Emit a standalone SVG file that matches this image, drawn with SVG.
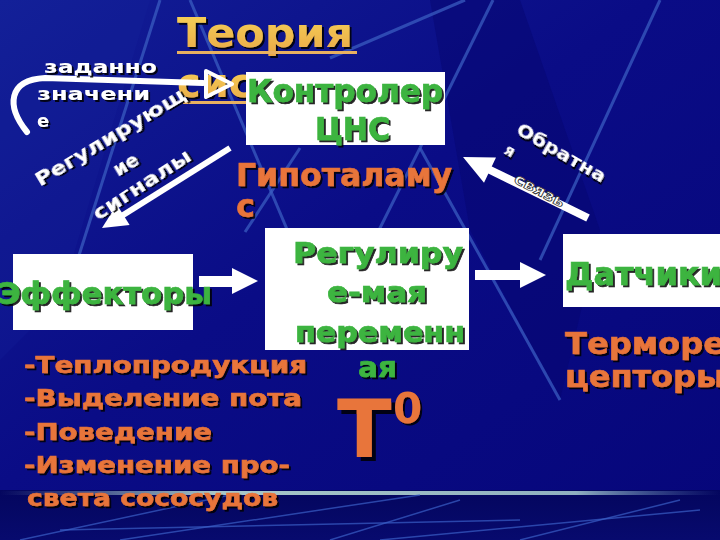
<svg xmlns="http://www.w3.org/2000/svg" width="720" height="540" viewBox="0 0 720 540">
<defs>
<linearGradient id="bg" x1="0" y1="0" x2="1" y2="1">
<stop offset="0" stop-color="#121e96"/>
<stop offset="0.45" stop-color="#0a0c86"/>
<stop offset="1" stop-color="#06067a"/>
</linearGradient>
<linearGradient id="band" x1="0" y1="0" x2="0" y2="1">
<stop offset="0" stop-color="#04065e"/>
<stop offset="1" stop-color="#070a6e"/>
</linearGradient>
<linearGradient id="hl" x1="0" y1="0" x2="1" y2="0">
<stop offset="0" stop-color="#8fb6c8" stop-opacity="0"/>
<stop offset="0.3" stop-color="#a8c8c8"/>
<stop offset="0.8" stop-color="#90b0c0"/>
<stop offset="1" stop-color="#5070b0" stop-opacity="0"/>
</linearGradient>
<linearGradient id="gold" x1="0" y1="0" x2="0" y2="1">
<stop offset="0" stop-color="#f8d458"/>
<stop offset="1" stop-color="#e8a848"/>
</linearGradient>
<filter id="sh" x="-10%" y="-20%" width="130%" height="150%">
<feDropShadow dx="2" dy="2" stdDeviation="0.4" flood-color="#000" flood-opacity="0.85"/>
</filter>
<filter id="shb" x="-10%" y="-10%" width="130%" height="130%">
<feDropShadow dx="4" dy="4" stdDeviation="0.6" flood-color="#000" flood-opacity="0.85"/>
</filter>
<style>
text{font-family:"DejaVu Sans","Liberation Sans",sans-serif;font-weight:bold}
.w{fill:#ffffff;filter:url(#sh)}
.g{fill:#3cb43f;stroke:#3cb43f;stroke-width:0.7;filter:url(#sh)}
.o{fill:#e8743a;stroke:#e8743a;stroke-width:0.6;filter:url(#sh)}
.bgl{stroke:#3a5cc0;stroke-width:3;fill:none;opacity:0.75}
.bgt{stroke:#3a60c8;stroke-width:1.5;fill:none;opacity:0.7}
.box{fill:#ffffff}
.con{stroke:#ffffff;fill:none}
.head{fill:#ffffff}
</style>
</defs>
<g id="background">
<rect x="0" y="0" width="720" height="540" fill="url(#bg)"/>
<polygon points="430,0 520,0 600,230 560,400 470,230" fill="#050570" opacity="0.5"/>
<polygon points="0,0 150,0 60,300 0,360" fill="#1a2aa0" opacity="0.2"/>
<line class="bgl" x1="160" y1="0" x2="68" y2="290"/>
<line class="bgl" x1="190" y1="0" x2="300" y2="260"/>
<line class="bgl" x1="330" y1="58" x2="465" y2="0"/>
<line class="bgl" x1="493" y1="0" x2="420" y2="148"/>
<line class="bgl" x1="420" y1="148" x2="560" y2="400"/>
<line class="bgl" x1="420" y1="148" x2="365" y2="258"/>
<line class="bgl" x1="660" y1="0" x2="540" y2="260"/>
<line class="bgl" x1="300" y1="148" x2="245" y2="232"/>
<rect x="0" y="490" width="720" height="50" fill="url(#band)"/>
<rect x="0" y="491" width="720" height="4" fill="url(#hl)"/>
<line class="bgt" x1="20" y1="540" x2="230" y2="495"/>
<line class="bgt" x1="120" y1="540" x2="420" y2="495"/>
<line class="bgt" x1="60" y1="530" x2="520" y2="520"/>
<line class="bgt" x1="330" y1="540" x2="460" y2="500"/>
<line class="bgt" x1="380" y1="540" x2="700" y2="510"/>
<line class="bgt" x1="520" y1="540" x2="680" y2="500"/>
</g>
<g id="title">
<text x="177" y="47" font-size="40" textLength="176" lengthAdjust="spacingAndGlyphs" fill="url(#gold)" filter="url(#sh)">Теория</text>
<rect x="177" y="51" width="180" height="3" fill="#e8b060"/>
<text x="177" y="97" font-size="40" fill="url(#gold)" filter="url(#sh)">сис</text>
<rect x="183" y="101" width="66" height="3" fill="#e8b060"/>
</g>
<g id="connectors">
<path class="con" d="M27,132 C6,106 8,80 45,78 L203,83" stroke-width="6" stroke-linecap="round"/>
<polygon points="206,71 232,84 206,97" fill="none" stroke="#ffffff" stroke-width="4" stroke-linejoin="round"/>
<line class="con" x1="230" y1="148" x2="120" y2="217" stroke-width="6"/>
<polygon class="head" points="102,228 129.6,224.9 116.8,204.6"/>
<line class="con" x1="588" y1="218" x2="488" y2="169" stroke-width="8"/>
<polygon class="head" points="463,157 496,157.6 484,182.8"/>
<rect class="head" x="199" y="276" width="34" height="11"/>
<polygon class="head" points="232,268 258,281 232,294"/>
<rect class="head" x="475" y="270" width="46" height="10"/>
<polygon class="head" points="520,262 546,275 520,288"/>
</g>
<g id="controller">
<rect class="box" x="246" y="72" width="199" height="73"/>
<text class="g" x="247" y="102" font-size="32" textLength="196" lengthAdjust="spacingAndGlyphs">Контролер</text>
<text class="g" x="315" y="140" font-size="32" textLength="75" lengthAdjust="spacingAndGlyphs">ЦНС</text>
</g>
<g id="hypothalamus">
<text class="o" x="236" y="186" font-size="32" textLength="216" lengthAdjust="spacingAndGlyphs">Гипоталаму</text>
<text class="o" x="236" y="217" font-size="32">с</text>
</g>
<g id="setpoint">
<text class="w" x="44" y="73" font-size="18" textLength="113" lengthAdjust="spacingAndGlyphs">заданно</text>
<text class="w" x="37" y="100" font-size="18" textLength="113" lengthAdjust="spacingAndGlyphs">значени</text>
<text class="w" x="37" y="127" font-size="18">е</text>
</g>
<g id="reg-signals-label">
<text class="w" transform="translate(40,187) rotate(-31)" font-size="19" textLength="172" lengthAdjust="spacingAndGlyphs">Регулирующ</text>
<text class="w" transform="translate(118,177) rotate(-31)" font-size="19">ие</text>
<text class="w" transform="translate(98,221) rotate(-33)" font-size="19" textLength="113" lengthAdjust="spacingAndGlyphs">сигналы</text>
</g>
<g id="feedback-label">
<text class="w" transform="translate(515,133) rotate(30)" font-size="18" textLength="100" lengthAdjust="spacingAndGlyphs">Обратна</text>
<text class="w" transform="translate(503,153) rotate(30)" font-size="15">я</text>
<text transform="translate(513,182) rotate(28)" font-size="15" textLength="55" lengthAdjust="spacingAndGlyphs" fill="#ffffff" stroke="#333333" stroke-width="0.8">связь</text>
</g>
<g id="effectors">
<rect class="box" x="13" y="254" width="180" height="76"/>
<text class="g" x="-2" y="304" font-size="30" textLength="214" lengthAdjust="spacingAndGlyphs">Эффекторы</text>
</g>
<g id="effector-list">
<text class="o" x="24" y="373" font-size="23" textLength="283" lengthAdjust="spacingAndGlyphs">-Теплопродукция</text>
<text class="o" x="24" y="406" font-size="23" textLength="278" lengthAdjust="spacingAndGlyphs">-Выделение пота</text>
<text class="o" x="24" y="440" font-size="23" textLength="188" lengthAdjust="spacingAndGlyphs">-Поведение</text>
<text class="o" x="24" y="473" font-size="23" textLength="266" lengthAdjust="spacingAndGlyphs">-Изменение про-</text>
<text class="o" x="27" y="506" font-size="23" textLength="251" lengthAdjust="spacingAndGlyphs">света сососудов</text>
</g>
<g id="variable">
<rect class="box" x="265" y="228" width="204" height="122"/>
<text class="g" x="293" y="263" font-size="29" textLength="170" lengthAdjust="spacingAndGlyphs">Регулиру</text>
<text class="g" x="327" y="302" font-size="29" textLength="100" lengthAdjust="spacingAndGlyphs">е-мая</text>
<text class="g" x="295" y="342" font-size="29" textLength="170" lengthAdjust="spacingAndGlyphs">переменн</text>
<text class="g" x="358" y="377" font-size="29" textLength="39" lengthAdjust="spacingAndGlyphs">ая</text>
</g>
<g id="temperature">
<text x="337" y="457" font-size="80" fill="#e8743a" filter="url(#shb)">T</text>
<text x="393" y="423" font-size="42" fill="#e8743a" filter="url(#sh)">0</text>
</g>
<g id="sensors">
<rect class="box" x="563" y="234" width="160" height="73"/>
<text class="g" x="565" y="285" font-size="32" textLength="157" lengthAdjust="spacingAndGlyphs">Датчики</text>
<text class="o" x="565" y="354" font-size="30" textLength="160" lengthAdjust="spacingAndGlyphs">Терморе</text>
<text class="o" x="565" y="387" font-size="30" textLength="160" lengthAdjust="spacingAndGlyphs">цепторы</text>
</g>
</svg>
